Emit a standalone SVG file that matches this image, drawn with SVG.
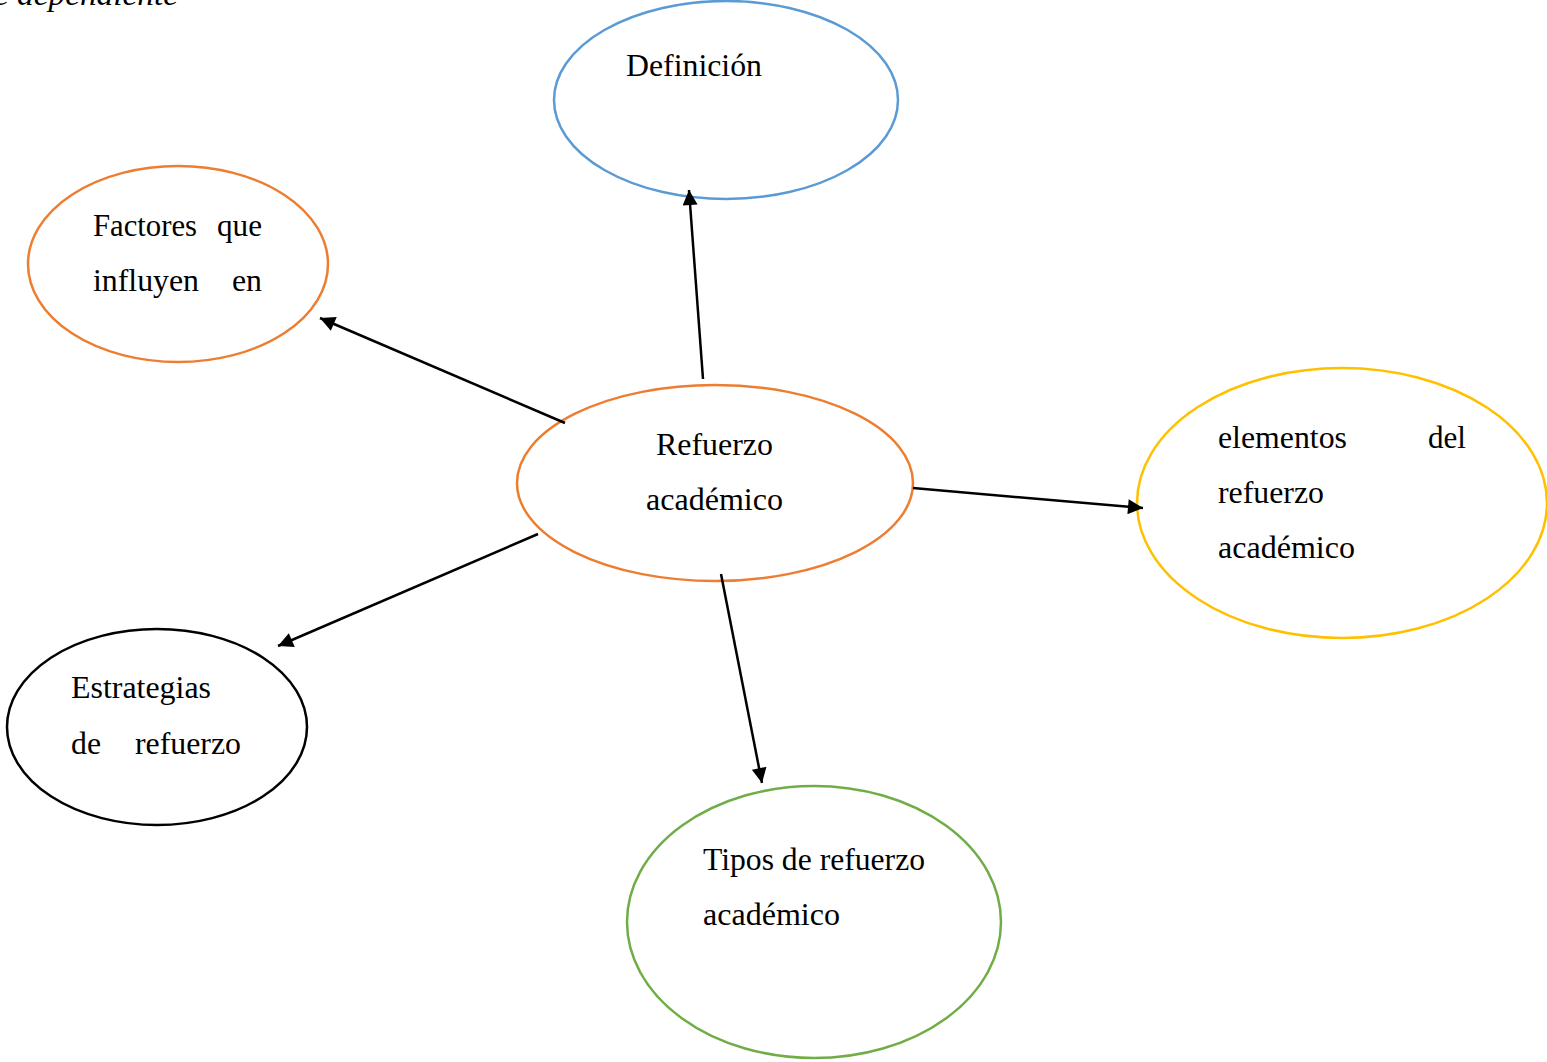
<svg xmlns="http://www.w3.org/2000/svg" width="1547" height="1062" viewBox="0 0 1547 1062">
<style>
.t{font-family:"Liberation Serif","Times New Roman",serif;font-size:31px;fill:#000}
.e{fill:none;stroke-width:2.5}
.c{stroke:#000;stroke-width:2.5;fill:none}
</style>
<defs>
<marker id="ah" viewBox="0 0 10 10" refX="10" refY="5" markerWidth="6.5" markerHeight="6" markerUnits="strokeWidth" orient="auto">
<path d="M0,0L10,5L0,10z" fill="#000"/>
</marker>
</defs>
<rect width="1547" height="1062" fill="#fff"/>
<text x="-6" y="5" class="t" font-style="italic" textLength="184" lengthAdjust="spacingAndGlyphs">e dependiente</text>
<g id="n-definicion"><ellipse class="e" cx="726" cy="100" rx="172" ry="99" stroke="#5B9BD5"/><text class="t" x="626" y="76" textLength="136" lengthAdjust="spacingAndGlyphs">Definición</text></g>
<g id="n-factores"><ellipse class="e" cx="178" cy="264" rx="150" ry="98" stroke="#ED7D31"/><text class="t" x="93" y="236" textLength="104" lengthAdjust="spacingAndGlyphs">Factores</text><text class="t" x="217" y="236" textLength="45" lengthAdjust="spacingAndGlyphs">que</text><text class="t" x="93" y="291" textLength="106" lengthAdjust="spacingAndGlyphs">influyen</text><text class="t" x="232" y="291" textLength="30" lengthAdjust="spacingAndGlyphs">en</text></g>
<g id="n-refuerzo"><ellipse class="e" cx="715" cy="483" rx="198" ry="98" stroke="#ED7D31"/><text class="t" x="656" y="455" textLength="117" lengthAdjust="spacingAndGlyphs">Refuerzo</text><text class="t" x="646" y="510" textLength="137" lengthAdjust="spacingAndGlyphs">académico</text></g>
<g id="n-elementos"><ellipse class="e" cx="1342" cy="503" rx="205" ry="135" stroke="#FFC000"/><text class="t" x="1218" y="448" textLength="129" lengthAdjust="spacingAndGlyphs">elementos</text><text class="t" x="1428" y="448" textLength="38" lengthAdjust="spacingAndGlyphs">del</text><text class="t" x="1218" y="503" textLength="106" lengthAdjust="spacingAndGlyphs">refuerzo</text><text class="t" x="1218" y="558" textLength="137" lengthAdjust="spacingAndGlyphs">académico</text></g>
<g id="n-estrategias"><ellipse class="e" cx="157" cy="727" rx="150" ry="98" stroke="#000"/><text class="t" x="71" y="698" textLength="140" lengthAdjust="spacingAndGlyphs">Estrategias</text><text class="t" x="71" y="754" textLength="30" lengthAdjust="spacingAndGlyphs">de</text><text class="t" x="135" y="754" textLength="106" lengthAdjust="spacingAndGlyphs">refuerzo</text></g>
<g id="n-tipos"><ellipse class="e" cx="814" cy="922" rx="187" ry="136" stroke="#70AD47"/><text class="t" x="703" y="870" textLength="222" lengthAdjust="spacingAndGlyphs">Tipos de refuerzo</text><text class="t" x="703" y="925" textLength="137" lengthAdjust="spacingAndGlyphs">académico</text></g>
<g id="connectors">
<line class="c" x1="703" y1="379" x2="689" y2="190" marker-end="url(#ah)"/>
<line class="c" x1="565" y1="423" x2="320" y2="318" marker-end="url(#ah)"/>
<line class="c" x1="913" y1="488" x2="1143" y2="508" marker-end="url(#ah)"/>
<line class="c" x1="538" y1="534" x2="278" y2="646" marker-end="url(#ah)"/>
<line class="c" x1="721" y1="574" x2="762" y2="783" marker-end="url(#ah)"/>
</g>
</svg>
